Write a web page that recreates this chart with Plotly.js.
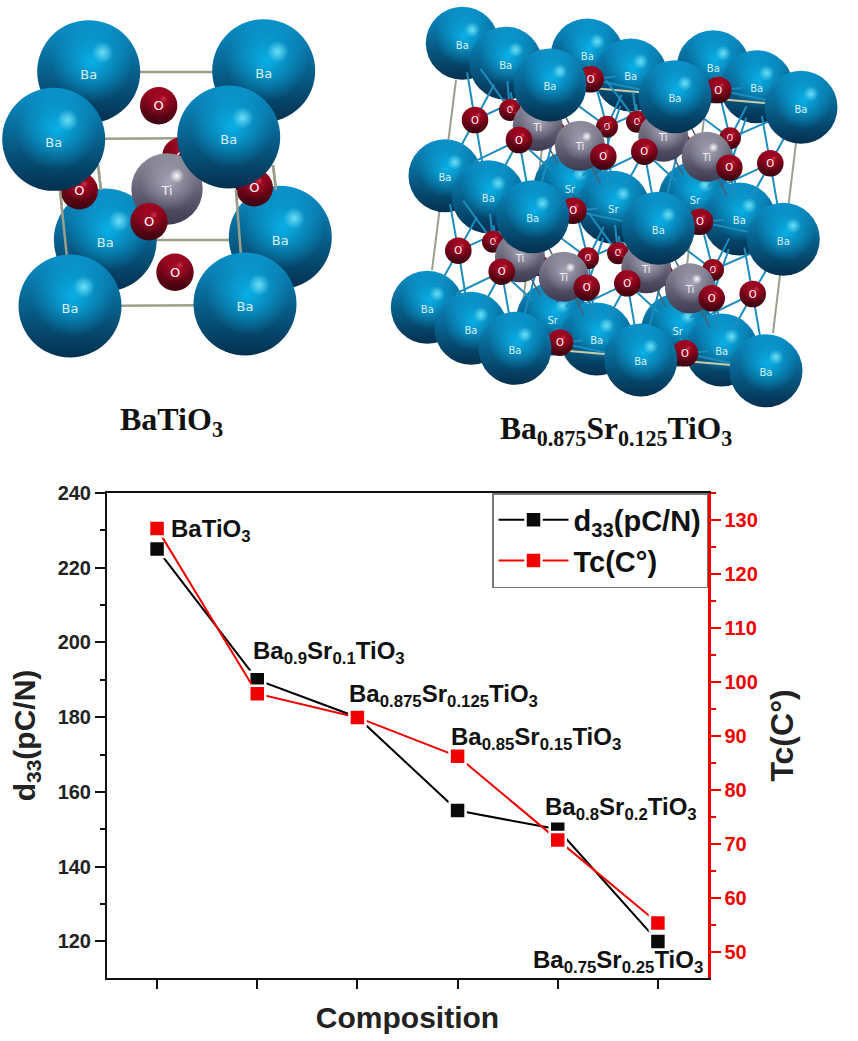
<!DOCTYPE html>
<html><head><meta charset="utf-8">
<script src="https://cdn.plot.ly/plotly-3.0.1.min.js"></script>
<style>html,body{margin:0;padding:0;background:#fff}</style></head>
<body><div id="chart" style="width:858px;height:1041px"></div>
<script>
// ---- Line chart data ----
const compositions = [0, 1, 2, 3, 4, 5];
const d33Values = [225, 190, 180, 155, 150, 120];
const tcValues = [128.4, 97.8, 93.4, 86.2, 70.7, 55.3];
const compositionLabels = ['BaTiO<sub>3</sub>', 'Ba<sub>0.9</sub>Sr<sub>0.1</sub>TiO<sub>3</sub>',
  'Ba<sub>0.875</sub>Sr<sub>0.125</sub>TiO<sub>3</sub>', 'Ba<sub>0.85</sub>Sr<sub>0.15</sub>TiO<sub>3</sub>',
  'Ba<sub>0.8</sub>Sr<sub>0.2</sub>TiO<sub>3</sub>', 'Ba<sub>0.75</sub>Sr<sub>0.25</sub>TiO<sub>3</sub>'];
const labelLeft = [169, 251, 347, 449, 543, 531];
const labelMiddle = [530, 652, 695, 738, 808, 961];

// ---- Crystal 1: BaTiO3 (picture coordinates) ----
const c1BaBackX = [88.7, 263.7, 105.3, 280.3];
const c1BaBackY = [71.7, 70.7, 240, 237.3];
const c1BaFrontX = [53.7, 228.7, 70, 245];
const c1BaFrontY = [139.3, 137, 306, 304];
const c1TiX = [167], c1TiY = [189];
const c1OBackX = [158.7, 175, 181], c1OBackY = [105.7, 272.3, 156];
const c1OFrontX = [149, 79.3, 254.3], c1OFrontY = [221.7, 190.7, 187.7];
const c1CellX = [88, 263, null, 105, 280, null, 54, 229, null, 70, 245, null, 60, 67, null, 236, 241, null, 98, 101, null, 273, 276];
const c1CellY = [72, 72, null, 240, 240, null, 139, 138, null, 306, 305, null, 190, 258, null, 190, 256, null, 165, 190, null, 165, 190];

// ---- Crystal 2: Ba0.875Sr0.125TiO3 (picture coordinates) ----
const c2BaFarX = [462.3, 587.3, 713.3, 445, 570, 695, 427.3, 552.7, 677.7];
const c2BaFarY = [43.3, 55, 66.7, 175.7, 187.3, 198.3, 307.3, 319, 330];
const c2BaFarLabel = ['Ba', 'Ba', 'Ba', 'Ba', 'Sr', 'Sr', 'Ba', 'Sr', 'Sr'];
const c2BaMidX = [505.7, 630.7, 756.7, 488.3, 613.3, 739.3, 471, 596.7, 721.7];
const c2BaMidY = [63.3, 75, 86.7, 196.7, 207.3, 219, 328.3, 339, 350];
const c2BaMidLabel = ['Ba', 'Ba', 'Ba', 'Ba', 'Sr', 'Ba', 'Ba', 'Ba', 'Ba'];
const c2BaFrontX = [550, 675, 801, 532.7, 658.3, 783.3, 515, 640.7, 766];
const c2BaFrontY = [85, 96.7, 107.3, 216.7, 228.3, 239.3, 348.3, 360, 370.7];
const c2TiX = [537.7, 663.3, 520, 646.3, 580, 706.7, 563.7, 690];
const c2TiY = [126, 136.7, 257.3, 268.3, 145.7, 156.7, 276.7, 288.3];
const c2OSmallX = [510, 555, 680, 607, 637, 730, 493, 538, 663, 588, 618, 713];
const c2OSmallY = [110, 131.7, 143.3, 126.7, 121.7, 138.3, 241.7, 265, 275, 258.3, 253.3, 270];
const c2OBigX = [475, 519, 603.3, 644.3, 729.3, 770.3, 458.3, 501.7, 586.7, 627.3, 711.7, 752.7, 590.7, 718.3, 573.3, 700, 560, 685];
const c2OBigY = [120, 140, 156.7, 151.7, 167.7, 163.3, 250.7, 271.7, 287.7, 283.3, 298.3, 294, 79.3, 90, 210.7, 221.7, 342.7, 353.3];
const c2CellX = [456, 432, null, 796, 773, null, 545, 522, null, 705, 683];
const c2CellY = [80, 270, null, 143, 333, null, 125, 310, null, 110, 300];
const c2EdgeX = [592, 765, null, 558, 731];
const c2EdgeY = [88, 103, null, 350, 365];
const c2BondBlueColor = '#1c8dbd';

const cellColor = '#9aa08a';
const blueStyle = {top: '#0b92cb', bottom: '#04304f', glow: [8, 176, 232], spot: [120, 230, 250], spotAlpha: 0.9, text: '#d6f0f5'};
const tiStyle = {top: '#8f8d9c', bottom: '#3d3a52', glow: [165, 163, 182], spot: [255, 255, 255], spotAlpha: 0.95, text: '#eeeeee'};
const oStyle = {top: '#a1061f', bottom: '#3d0410', glow: [176, 8, 38], spot: [255, 110, 130], spotAlpha: 0.45, text: '#ffffff'};
const rgba = (c, a) => `rgba(${c[0]},${c[1]},${c[2]},${a})`;

const overlay = {xaxis: 'x3', yaxis: 'y3', showlegend: false, hoverinfo: 'skip', cliponaxis: false};
const traces = [];

function addLines(xs, ys, color, width) {
  traces.push(Object.assign({type: 'scatter', mode: 'lines', x: xs, y: ys, line: {color: color, width: width}}, overlay));
}
function addAtoms(xs, ys, radius, labels, s, fontSize) {
  traces.push(Object.assign({type: 'scatter', mode: 'markers', x: xs, y: ys,
    marker: {size: 2 * radius, color: s.top, line: {width: 0}, gradient: {type: 'vertical', color: s.bottom}}}, overlay));
  traces.push(Object.assign({type: 'scatter', mode: 'markers',
    x: xs.map(v => v + radius * 0.06), y: ys.map(v => v - radius * 0.2),
    marker: {size: 1.6 * radius, color: rgba(s.glow, 0), line: {width: 0}, gradient: {type: 'radial', color: rgba(s.glow, 1)}}}, overlay));
  traces.push(Object.assign({type: 'scatter', mode: 'markers',
    x: xs.map(v => v + radius * 0.27), y: ys.map(v => v - radius * 0.37),
    marker: {size: 0.42 * radius, color: rgba(s.spot, 0), line: {width: 0}, gradient: {type: 'radial', color: rgba(s.spot, s.spotAlpha)}}}, overlay));
  traces.push(Object.assign({type: 'scatter', mode: 'text', x: xs, y: ys.map(v => v + radius * 0.08),
    text: xs.map((_, i) => Array.isArray(labels) ? labels[i] : labels), textposition: 'middle center',
    textfont: {family: 'DejaVu Sans, sans-serif', size: fontSize, color: s.text}}, overlay));
}
// Bonds stop part-way to the neighbour, as in the ball-and-stick picture.
function bondsFrom(fromX, fromY, toX, toY, reach, share) {
  const xs = [], ys = [];
  fromX.forEach((fx, i) => toX.forEach((tx, j) => {
    const dx = tx - fx, dy = toY[j] - fromY[i];
    if (Math.hypot(dx, dy) < reach) { xs.push(fx, fx + dx * share, null); ys.push(fromY[i], fromY[i] + dy * share, null); }
  }));
  return [xs, ys];
}

// Crystal 1
addLines(c1CellX, c1CellY, cellColor, 2.5);
addAtoms(c1BaBackX, c1BaBackY, 51.5, 'Ba', blueStyle, 13);
addAtoms(c1OBackX, c1OBackY, 18.7, 'O', oStyle, 13);
addAtoms(c1TiX, c1TiY, 35.7, 'Ti', tiStyle, 13);
addAtoms(c1OFrontX, c1OFrontY, 18.7, 'O', oStyle, 13);
addLines(c1CellX.slice(12), c1CellY.slice(12), cellColor, 2.5);
addAtoms(c1BaFrontX, c1BaFrontY, 51.5, 'Ba', blueStyle, 13);

// Crystal 2
const allO2X = c2OSmallX.concat(c2OBigX), allO2Y = c2OSmallY.concat(c2OBigY);
const allBa2X = c2BaFarX.concat(c2BaMidX, c2BaFrontX), allBa2Y = c2BaFarY.concat(c2BaMidY, c2BaFrontY);
addLines(c2CellX, c2CellY, cellColor, 2);
addAtoms(c2BaFarX, c2BaFarY, 36.5, c2BaFarLabel, blueStyle, 10);
addAtoms(c2BaMidX, c2BaMidY, 36.5, c2BaMidLabel, blueStyle, 10);
addLines(c2EdgeX, c2EdgeY, '#c9cca6', 2);
const blue = bondsFrom(allO2X, allO2Y, allBa2X, allBa2Y, 88, 0.62);
addLines(blue[0], blue[1], c2BondBlueColor, 2);
const greyB = bondsFrom(c2TiX, c2TiY, allBa2X, allBa2Y, 85, 0.62);
addLines(greyB[0], greyB[1], '#4e5f70', 1.5);
addAtoms(c2OSmallX, c2OSmallY, 11, 'O', oStyle, 8);
const red = bondsFrom(allO2X, allO2Y, c2TiX, c2TiY, 50, 0.6);
addLines(red[0], red[1], '#a01830', 1.5);
addAtoms(c2TiX, c2TiY, 25, 'Ti', tiStyle, 10);
addAtoms(c2OBigX, c2OBigY, 13.3, 'O', oStyle, 10);
addAtoms(c2BaFrontX, c2BaFrontY, 36.5, 'Ba', blueStyle, 10);

// Line chart
traces.push({type: 'scatter', mode: 'lines+markers', name: 'd<sub>33</sub>(pC/N)', x: compositions, y: d33Values,
  xaxis: 'x', yaxis: 'y', line: {color: '#000', width: 2},
  marker: {symbol: 'square', size: 16, color: '#0a0a0a', line: {color: '#fff', width: 2.5}}, cliponaxis: false});
traces.push({type: 'scatter', mode: 'lines+markers', name: 'Tc(C°)', x: compositions, y: tcValues,
  xaxis: 'x', yaxis: 'y2', line: {color: '#f00000', width: 2},
  marker: {symbol: 'square', size: 16, color: '#f00000', line: {color: '#fff', width: 2.5}}, cliponaxis: false});

const annotations = compositionLabels.map((t, i) => ({
  xref: 'x3', yref: 'y3', x: labelLeft[i], y: labelMiddle[i], text: '<b>' + t + '</b>', showarrow: false,
  xanchor: 'left', yanchor: 'middle', font: {family: 'Liberation Sans', size: 24, color: '#111'}
}));
annotations.push({xref: 'x3', yref: 'y3', x: 171, y: 421, text: '<b>BaTiO<sub>3</sub></b>', showarrow: false,
  font: {family: 'Liberation Serif', size: 32, color: '#111'}});
annotations.push({xref: 'x3', yref: 'y3', x: 616, y: 431, text: '<b>Ba<sub>0.875</sub>Sr<sub>0.125</sub>TiO<sub>3</sub></b>', showarrow: false,
  font: {family: 'Liberation Serif', size: 31.5, color: '#111'}});

const W = 858, H = 1041;
const boldFont = (size, color) => ({family: 'Liberation Sans', size: size, color: color, weight: 700});
const layout = {
  width: W, height: H, margin: {l: 0, r: 0, t: 0, b: 0}, paper_bgcolor: '#fff', plot_bgcolor: 'rgba(0,0,0,0)',
  font: {family: 'Liberation Sans'},
  xaxis: {domain: [107 / W, 708 / W], range: [-0.5, 5.5], anchor: 'y', tickvals: compositions, showticklabels: false,
    ticks: 'outside', ticklen: 9, tickwidth: 2, tickcolor: '#111', linecolor: '#111', linewidth: 2, mirror: true, showgrid: false, zeroline: false,
    title: {text: 'Composition', font: boldFont(30, '#222'), standoff: 19}},
  yaxis: {domain: [1 - 978 / H, 1 - 493 / H], range: [110.2, 240], anchor: 'x', dtick: 20, tick0: 0,
    ticks: 'outside', ticklen: 10, tickwidth: 2, tickcolor: '#111', linecolor: '#111', linewidth: 2, showgrid: false, zeroline: false,
    tickfont: boldFont(20, '#222'), minor: {dtick: 10, ticks: 'outside', ticklen: 5, tickwidth: 2, tickcolor: '#111', showgrid: false},
    title: {text: 'd<sub>33</sub>(pC/N)', font: boldFont(30, '#222'), standoff: 13}},
  yaxis2: {domain: [1 - 978 / H, 1 - 493 / H], range: [45.1, 135], overlaying: 'y', side: 'right', anchor: 'x', dtick: 10, tick0: 0,
    ticks: 'outside', ticklen: 10, tickwidth: 2, tickcolor: '#f00000', linecolor: '#f00000', linewidth: 2.5, showgrid: false, zeroline: false,
    tickfont: boldFont(20, '#f00000'), minor: {dtick: 5, ticks: 'outside', ticklen: 5, tickwidth: 2, tickcolor: '#f00000', showgrid: false},
    title: {text: 'Tc(C°)', font: boldFont(32, '#222'), standoff: 14}},
  xaxis3: {domain: [0, 1], range: [0, W], visible: false, anchor: 'y3', fixedrange: true},
  yaxis3: {domain: [0, 1], range: [H, 0], visible: false, anchor: 'x3', fixedrange: true},
  showlegend: true,
  legend: {x: 708 / W, xanchor: 'right', y: 1 - 493 / H, yanchor: 'top', bgcolor: '#fff', bordercolor: '#777', borderwidth: 1.5,
    font: boldFont(29, '#111'), itemwidth: 70, tracegroupgap: 0},
  annotations: annotations
};
Plotly.newPlot('chart', traces, layout, {displayModeBar: false, staticPlot: true});
</script></body></html>
